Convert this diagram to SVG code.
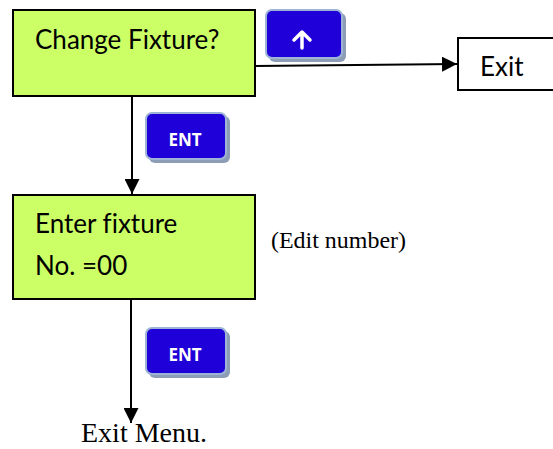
<svg xmlns="http://www.w3.org/2000/svg" width="553" height="449" viewBox="0 0 553 449">
  <style>
    .box { fill: #ccff66; stroke: #000; stroke-width: 2; }
    .exitbox { fill: #fff; stroke: #000; stroke-width: 2; }
    .lbl { font-family: Lato, "Open Sans", sans-serif; font-size: 26px; fill: #000; font-variant-ligatures: none; }
    .serif { font-family: "Liberation Serif", serif; fill: #000; }
    .btn { fill: #2000d8; stroke: #9db4d6; stroke-width: 2; }
    .shadow { fill: #8d9db5; }
    .btntxt { font-family: "Open Sans", "Liberation Sans", sans-serif; font-weight: bold; font-size: 17px; fill: #fff; }
    .conn { stroke: #000; stroke-width: 2; fill: none; }
  </style>
  <defs>
    <marker id="arr" viewBox="0 0 10 10" refX="10" refY="5" markerWidth="7.5" markerHeight="7.5" markerUnits="strokeWidth" orient="auto">
      <path d="M0,0 L10,5 L0,10 Z" fill="#000"/>
    </marker>
  </defs>
  <rect width="553" height="449" fill="#fff"/>

  <g id="connectors">
    <line class="conn" x1="255" y1="66" x2="457" y2="64" marker-end="url(#arr)"/>
    <line class="conn" x1="132" y1="96" x2="132" y2="194" marker-end="url(#arr)"/>
    <line class="conn" x1="131" y1="300" x2="131" y2="423" marker-end="url(#arr)"/>
  </g>

  <g id="node-change">
    <rect class="box" x="13" y="10" width="242" height="86"/>
    <text class="lbl" x="35" y="49">Change Fixture?</text>
  </g>

  <g id="btn-up">
    <rect class="shadow" x="269" y="13" width="77" height="49" rx="6"/>
    <rect class="btn" x="266" y="10" width="76" height="48" rx="6"/>
    <path d="M302,48 L302,32 M294,40 L302,32 L310,40" stroke="#fff" stroke-width="3.5" fill="none" stroke-linecap="round" stroke-linejoin="round"/>
  </g>

  <g id="node-exit">
    <rect class="exitbox" x="458" y="38" width="110" height="52"/>
    <text class="lbl" x="480" y="76">Exit</text>
  </g>

  <g id="btn-ent1">
    <rect class="shadow" x="149" y="116" width="81" height="47" rx="6"/>
    <rect class="btn" x="146" y="113" width="80" height="46" rx="6"/>
    <text class="btntxt" x="185" y="146" text-anchor="middle">ENT</text>
  </g>

  <g id="node-enter">
    <rect class="box" x="13" y="195" width="242" height="104"/>
    <text class="lbl" x="35" y="233">Enter fixture</text>
    <text class="lbl" x="35" y="275">No. =00</text>
  </g>

  <g id="note-edit">
    <text class="serif" x="271" y="248" font-size="23" textLength="135" lengthAdjust="spacingAndGlyphs">(Edit number)</text>
  </g>

  <g id="btn-ent2">
    <rect class="shadow" x="149" y="331" width="81" height="47" rx="6"/>
    <rect class="btn" x="146" y="328" width="80" height="46" rx="6"/>
    <text class="btntxt" x="185" y="361" text-anchor="middle">ENT</text>
  </g>

  <g id="node-exit-menu">
    <text class="serif" x="81" y="442" font-size="28">Exit Menu.</text>
  </g>
</svg>
